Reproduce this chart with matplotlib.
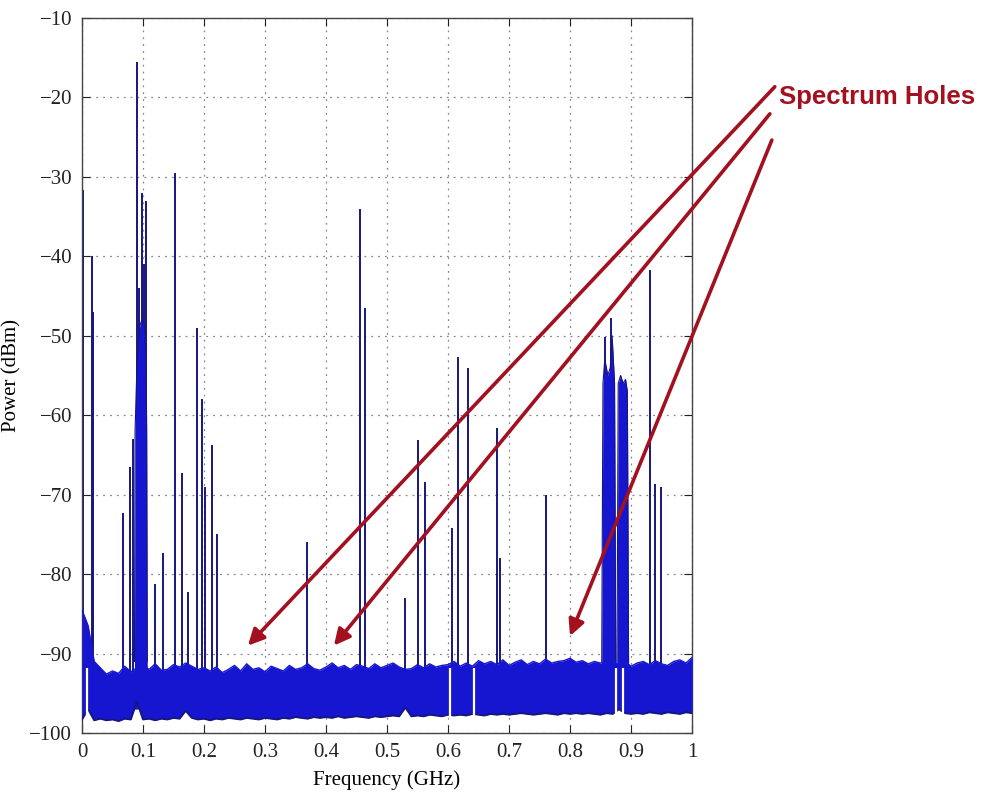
import numpy as np
import matplotlib.pyplot as plt

# Noise floor envelope (every 0.01 GHz)
floor_freq = [0.00, 0.01, 0.02, 0.03, 0.04, 0.05, 0.06, 0.07, 0.08, 0.09,
              0.10, 0.11, 0.12, 0.13, 0.14, 0.15, 0.16, 0.17, 0.18, 0.19,
              0.20, 0.21, 0.22, 0.23, 0.24, 0.25, 0.26, 0.27, 0.28, 0.29,
              0.30, 0.31, 0.32, 0.33, 0.34, 0.35, 0.36, 0.37, 0.38, 0.39,
              0.40, 0.41, 0.42, 0.43, 0.44, 0.45, 0.46, 0.47, 0.48, 0.49,
              0.50, 0.51, 0.52, 0.53, 0.54, 0.55, 0.56, 0.57, 0.58, 0.59,
              0.60, 0.61, 0.62, 0.63, 0.64, 0.65, 0.66, 0.67, 0.68, 0.69,
              0.70, 0.71, 0.72, 0.73, 0.74, 0.75, 0.76, 0.77, 0.78, 0.79,
              0.80, 0.81, 0.82, 0.83, 0.84, 0.85, 0.86, 0.87, 0.88, 0.89,
              0.90, 0.91, 0.92, 0.93, 0.94, 0.95, 0.96, 0.97, 0.98, 0.99, 1.00]
floor_top = [-84.5, -86.5, -91.0, -91.8, -92.6, -92.2, -92.5, -91.6, -92.3, -91.8,
             -91.5, -92.0, -91.3, -92.1, -92.0, -91.4, -91.7, -91.2, -91.6, -92.0,
             -91.8, -92.2, -91.7, -92.4, -92.0, -91.5, -92.2, -91.3, -92.0, -91.8,
             -92.3, -91.6, -91.9, -92.2, -91.5, -92.0, -91.8, -91.3, -91.9, -92.1,
             -91.7, -91.2, -91.8, -91.5, -92.0, -91.4, -91.6, -91.9, -91.3, -91.8,
             -91.5, -91.2, -91.7, -92.0, -91.9, -91.4, -91.8, -91.3, -91.7, -91.5,
             -91.4, -91.0, -91.6, -91.2, -91.6, -90.9, -91.3, -91.0, -91.4, -90.8,
             -91.5, -91.1, -90.8, -91.4, -91.0, -91.3, -90.7, -91.2, -91.0, -90.9,
             -90.6, -91.1, -90.9, -91.3, -91.0, -91.2, -91.0, -91.0, -91.3, -91.0,
             -91.6, -91.2, -91.0, -91.4, -90.9, -91.3, -91.5, -91.0, -90.8, -91.2, -90.5]
floor_bottom = [-98.3, -97.0, -98.4, -98.2, -98.4, -98.3, -98.5, -98.2, -98.3, -96.0,
                -98.3, -98.2, -98.4, -98.2, -98.3, -98.1, -98.2, -97.2, -98.1, -98.3,
                -98.2, -98.4, -98.2, -98.3, -98.1, -98.2, -98.3, -98.1, -98.2, -98.3,
                -98.1, -98.2, -98.3, -98.1, -98.2, -98.0, -98.1, -98.2, -98.0, -98.1,
                -98.0, -98.1, -97.9, -98.1, -98.0, -97.9, -98.0, -98.1, -97.9, -98.0,
                -97.9, -97.8, -97.9, -96.8, -97.9, -97.8, -97.9, -97.7, -97.8, -97.9,
                -97.7, -97.8, -97.7, -97.8, -97.6, -97.7, -97.8, -97.6, -97.7, -97.6,
                -97.7, -97.6, -97.5, -97.6, -97.7, -97.6, -97.5, -97.6, -97.7, -97.5,
                -97.6, -97.5, -97.6, -97.5, -97.6, -97.7, -97.5, -97.6, -97.0, -97.5,
                -97.6, -97.5, -97.6, -97.4, -97.5, -97.6, -97.4, -97.5, -97.6, -97.4, -97.5]

# Narrow dropouts in the noise floor
gap_freq = [0.009, 0.603, 0.643, 0.876, 0.887]

# Wide occupied bands
band1_freq = [0.086, 0.087, 0.090, 0.094, 0.098, 0.102, 0.105, 0.106, 0.107]
band1_top = [-91.0, -62.0, -54.0, -49.0, -48.0, -48.5, -52.0, -62.0, -91.0]
band2_freq = [0.852, 0.854, 0.857, 0.862, 0.866, 0.869, 0.873, 0.875]
band2_top = [-91.0, -56.0, -53.0, -55.0, -54.0, -50.0, -56.0, -91.0]
band3_freq = [0.877, 0.879, 0.883, 0.887, 0.891, 0.894, 0.896]
band3_top = [-91.0, -56.0, -55.0, -56.0, -55.5, -57.0, -91.0]

# Narrow carriers: frequency (GHz) and peak power (dBm)
spike_freq = [0.002, 0.016, 0.018, 0.067, 0.079, 0.084, 0.090, 0.093, 0.098, 0.102, 0.105,
              0.120, 0.133, 0.152, 0.164, 0.174, 0.189, 0.197, 0.202, 0.213, 0.221,
              0.369, 0.456, 0.464, 0.530, 0.551, 0.562, 0.607, 0.616, 0.633, 0.680,
              0.685, 0.761, 0.857, 0.868, 0.931, 0.939, 0.949]
spike_db = [-31.7, -40.0, -47.0, -72.3, -66.5, -63.0, -15.5, -44.0, -32.0, -41.0, -33.0,
            -81.2, -77.3, -29.5, -67.3, -82.3, -49.0, -58.0, -69.0, -63.8, -75.0,
            -76.0, -34.0, -46.5, -83.0, -63.1, -68.4, -74.2, -52.7, -54.0, -61.6,
            -78.0, -70.0, -50.2, -47.8, -41.7, -68.6, -69.0]

x_ticks = [0, 0.1, 0.2, 0.3, 0.4, 0.5, 0.6, 0.7, 0.8, 0.9, 1]
x_tick_labels = ['0', '0.1', '0.2', '0.3', '0.4', '0.5', '0.6', '0.7', '0.8', '0.9', '1']
y_ticks = [-100, -90, -80, -70, -60, -50, -40, -30, -20, -10]

# Arrow heads of the "Spectrum Holes" callout (data coords)
hole_freq = [0.272, 0.413, 0.800]
hole_db = [-89.0, -89.0, -87.8]

blue = '#1616d0'
navy = '#161680'
red = '#a3101f'

plt.rcParams['font.family'] = ['Liberation Serif', 'DejaVu Serif']

fig = plt.figure(figsize=(9.82, 7.96), dpi=100)
ax = fig.add_axes([0.0835, 0.0792, 0.6212, 0.8982])

# carriers (behind the floor)
ax.vlines(spike_freq, -93, spike_db, color=navy, lw=1.4, zorder=2)

# occupied bands
for bf, bt in [(band1_freq, band1_top), (band2_freq, band2_top), (band3_freq, band3_top)]:
    ax.fill_between(bf, -97.0, bt, color=blue, lw=0, zorder=3)
    ax.plot(bf, bt, color=navy, lw=0.8, zorder=3)

# noise floor
ax.fill_between(floor_freq, floor_bottom, floor_top, color=blue, lw=0, zorder=4)
ax.plot(floor_freq, floor_bottom, color=navy, lw=1.4, zorder=4)
ax.plot(floor_freq, floor_top, color=blue, lw=1.0, zorder=4)

# dropouts in the floor
ax.vlines(gap_freq, -98.5, -91.8, color='white', lw=1.6, zorder=5)

ax.set_xlim(0, 1)
ax.set_ylim(-100, -10)
ax.set_xticks(x_ticks)
ax.set_xticklabels(x_tick_labels)
ax.set_yticks(y_ticks)
ax.tick_params(direction='in', top=True, right=True, length=6, labelsize=15,
               colors='#222222', pad=7)
ax.grid(True, linestyle=(0, (1.5, 4)), color='#888888', lw=0.9)
ax.set_axisbelow(True)
for s in ax.spines.values():
    s.set_color('#444444')
    s.set_linewidth(1.0)

ax.set_xlabel('Frequency (GHz)', fontsize=15, labelpad=6)
ax.set_ylabel('Power (dBm)', fontsize=15)
ax.yaxis.set_label_coords(-0.1, 0.5)

# callout
tails = [(0.789, 0.891), (0.784, 0.857), (0.786, 0.824)]
for (tx, ty), hf, hd in zip(tails, hole_freq, hole_db):
    ax.annotate('', xy=(hf, hd), xycoords='data',
                xytext=(tx, ty), textcoords='figure fraction',
                arrowprops=dict(arrowstyle='-|>', color=red, lw=2.6,
                                mutation_scale=24, shrinkA=0, shrinkB=0),
                annotation_clip=False, zorder=6)

fig.text(0.793, 0.878, 'Spectrum Holes', color=red, fontsize=18.5, fontweight='bold',
         family=['Liberation Sans', 'DejaVu Sans'], va='center', ha='left')

fig.savefig('out.png', dpi=100)
